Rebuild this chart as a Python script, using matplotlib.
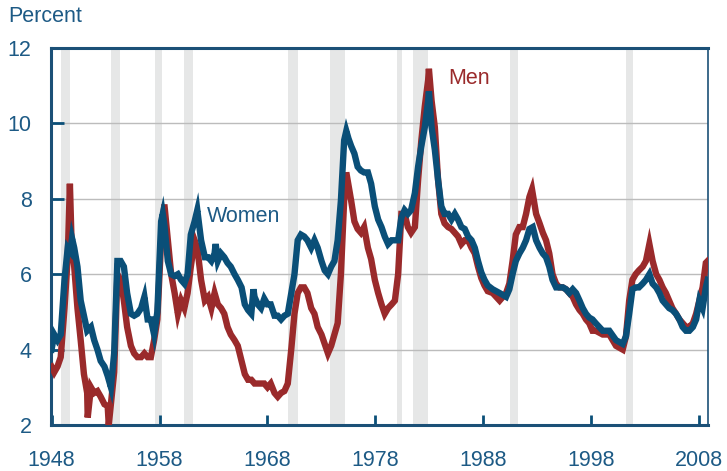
import matplotlib.pyplot as plt

# unemployment rate
men_years = [1948.0, 1948.25, 1948.55, 1948.85, 1949.2, 1949.5, 1949.7, 1949.85, 1950.1, 1950.4,
             1950.7, 1951.0, 1951.3, 1951.35, 1951.65, 1951.95, 1952.25, 1952.55, 1952.9, 1953.2,
             1953.3, 1953.5, 1953.8, 1954.1, 1954.4, 1954.7, 1955.0, 1955.35, 1955.65, 1955.95,
             1956.3, 1956.6, 1956.9, 1957.2, 1957.5, 1957.8, 1958.15, 1958.45, 1958.77, 1959.08,
             1959.4, 1959.7, 1960.0, 1960.3, 1960.6, 1960.9, 1961.25, 1961.5, 1961.85, 1962.2,
             1962.5, 1962.8, 1963.1, 1963.4, 1963.7, 1964.0, 1964.3, 1964.6, 1964.95, 1965.25,
             1965.6, 1965.9, 1966.2, 1966.5, 1966.8, 1967.1, 1967.4, 1967.7, 1968.0, 1968.3,
             1968.65, 1968.95, 1969.26, 1969.57, 1969.88, 1970.2, 1970.5, 1970.8, 1971.1, 1971.4,
             1971.7, 1972.05, 1972.35, 1972.65, 1973.0, 1973.3, 1973.6, 1973.9, 1974.2, 1974.5,
             1974.8, 1975.1, 1975.3, 1975.75, 1976.05, 1976.35, 1976.65, 1976.95, 1977.3, 1977.6,
             1977.94, 1978.25, 1978.56, 1978.86, 1979.17, 1979.5, 1979.8, 1980.1, 1980.4, 1980.7,
             1981.0, 1981.3, 1981.65, 1981.95, 1982.25, 1982.57, 1982.88, 1982.95, 1983.2, 1983.5,
             1983.8, 1984.1, 1984.4, 1984.73, 1985.04, 1985.35, 1985.65, 1985.96, 1986.27, 1986.58,
             1986.9, 1987.2, 1987.5, 1987.8, 1988.1, 1988.4, 1988.86, 1989.5, 1990.1, 1990.4,
             1990.7, 1991.0, 1991.33, 1991.64, 1991.95, 1992.26, 1992.5, 1992.88, 1993.2, 1993.5,
             1993.8, 1994.1, 1994.4, 1994.73, 1995.04, 1995.35, 1995.65, 1995.96, 1996.27, 1996.58,
             1996.9, 1997.2, 1997.5, 1997.8, 1998.1, 1998.4, 1999.05, 1999.66, 2000.28, 2000.9,
             2001.2, 2001.5, 2001.8, 2002.1, 2002.4, 2002.75, 2003.05, 2003.37, 2003.67, 2004.0,
             2004.3, 2004.6, 2004.9, 2005.2, 2005.5, 2005.84, 2006.15, 2006.45, 2006.76, 2007.07,
             2007.4, 2007.7, 2008.0, 2008.3, 2008.6, 2008.77]
men = [3.55, 3.4, 3.55, 3.8, 5.1, 6.45, 8.4, 6.9, 6.2, 5.1,
       4.25, 3.35, 2.85, 2.2, 3.0, 2.85, 2.9, 2.75, 2.55, 2.5,
       2.0, 2.55, 3.4, 6.0, 5.85, 5.3, 4.6, 4.1, 3.9, 3.8,
       3.8, 3.9, 3.8, 3.8, 4.25, 4.8, 6.9, 7.85, 6.9, 6.0,
       5.5, 4.95, 5.3, 5.1, 5.5, 6.2, 6.9, 6.7, 5.85, 5.3,
       5.4, 5.1, 5.5, 5.2, 5.1, 4.95, 4.6, 4.4, 4.25, 4.1,
       3.7, 3.35, 3.2, 3.2, 3.1, 3.1, 3.1, 3.1, 3.0, 3.1,
       2.85, 2.75, 2.85, 2.9, 3.1, 4.0, 4.95, 5.5, 5.65, 5.65,
       5.5, 5.1, 4.95, 4.6, 4.4, 4.15, 3.9, 4.1, 4.4, 4.7,
       6.0, 7.95, 8.7, 7.95, 7.4, 7.2, 7.1, 7.25, 6.7, 6.4,
       5.85, 5.5, 5.2, 4.95, 5.1, 5.2, 5.3, 6.0, 7.6, 7.6,
       7.25, 7.1, 7.25, 8.5, 9.55, 10.45, 11.15, 11.45, 10.6, 9.9,
       8.5, 7.6, 7.35, 7.25, 7.2, 7.1, 7.0, 6.8, 6.9, 6.9,
       6.7, 6.55, 6.2, 5.9, 5.7, 5.55, 5.5, 5.3, 5.5, 5.75,
       6.35, 7.05, 7.25, 7.25, 7.6, 8.05, 8.25, 7.6, 7.35, 7.1,
       6.9, 6.55, 6.0, 5.75, 5.65, 5.65, 5.6, 5.5, 5.4, 5.2,
       5.05, 4.95, 4.8, 4.7, 4.5, 4.5, 4.4, 4.4, 4.1, 4.0,
       4.35, 5.3, 5.85, 6.0, 6.1, 6.2, 6.35, 6.8, 6.35, 6.0,
       5.85, 5.65, 5.5, 5.3, 5.1, 4.95, 4.8, 4.7, 4.6, 4.6,
       4.7, 4.95, 5.3, 5.65, 6.3, 6.35]

women_years = [1948.0, 1948.25, 1948.55, 1948.85, 1949.2, 1949.5, 1949.75, 1949.9, 1950.1, 1950.4,
               1950.7, 1951.0, 1951.3, 1951.65, 1951.95, 1952.25, 1952.55, 1952.9, 1953.2, 1953.5,
               1953.8, 1954.1, 1954.4, 1954.7, 1955.0, 1955.35, 1955.65, 1955.95, 1956.3, 1956.6,
               1956.9, 1957.2, 1957.5, 1957.8, 1958.15, 1958.3, 1958.47, 1958.77, 1959.08, 1959.4,
               1959.7, 1960.0, 1960.3, 1960.6, 1960.9, 1961.25, 1961.5, 1961.85, 1962.2, 1962.5,
               1962.8, 1963.1, 1963.2, 1963.4, 1963.7, 1964.0, 1964.3, 1964.6, 1964.95, 1965.25,
               1965.6, 1965.9, 1966.2, 1966.5, 1966.7, 1966.8, 1967.1, 1967.4, 1967.7, 1968.0,
               1968.3, 1968.65, 1968.95, 1969.26, 1969.57, 1969.88, 1970.2, 1970.5, 1970.8, 1971.1,
               1971.4, 1971.7, 1972.05, 1972.35, 1972.65, 1973.0, 1973.3, 1973.6, 1973.9, 1974.2,
               1974.5, 1974.8, 1975.1, 1975.3, 1975.5, 1975.75, 1976.05, 1976.35, 1976.65, 1976.95,
               1977.3, 1977.6, 1977.94, 1978.25, 1978.56, 1978.86, 1979.17, 1979.5, 1979.8, 1980.1,
               1980.4, 1980.7, 1981.0, 1981.3, 1981.65, 1981.95, 1982.25, 1982.57, 1982.88, 1982.95,
               1983.2, 1983.5, 1983.8, 1984.1, 1984.4, 1984.73, 1985.04, 1985.35, 1985.65, 1985.96,
               1986.27, 1986.58, 1986.9, 1987.2, 1987.5, 1987.8, 1988.1, 1988.4, 1988.86, 1989.5,
               1990.1, 1990.4, 1990.7, 1991.0, 1991.33, 1991.64, 1991.95, 1992.26, 1992.57, 1992.88,
               1993.2, 1993.5, 1993.8, 1994.1, 1994.4, 1994.73, 1995.04, 1995.35, 1995.65, 1995.96,
               1996.27, 1996.58, 1996.9, 1997.2, 1997.5, 1997.8, 1998.1, 1998.4, 1999.05, 1999.66,
               2000.28, 2000.9, 2001.2, 2001.5, 2001.8, 2002.1, 2002.4, 2002.75, 2003.05, 2003.37,
               2003.67, 2004.0, 2004.3, 2004.6, 2004.9, 2005.2, 2005.5, 2005.84, 2006.15, 2006.45,
               2006.76, 2007.07, 2007.4, 2007.7, 2008.0, 2008.3, 2008.6, 2008.77]
women = [4.0, 4.4, 4.25, 4.4, 5.85, 6.7, 6.6, 6.95, 6.7, 6.2,
         5.3, 4.9, 4.5, 4.6, 4.25, 4.0, 3.7, 3.55, 3.3, 3.0,
         3.9, 6.35, 6.35, 6.2, 5.5, 4.95, 4.9, 4.95, 5.1, 5.4,
         4.8, 4.8, 4.4, 5.0, 7.4, 7.6, 7.25, 6.35, 6.0, 5.95,
         6.0, 5.85, 5.75, 6.0, 7.05, 7.4, 7.7, 6.9, 6.45, 6.45,
         6.35, 6.55, 6.8, 6.35, 6.55, 6.45, 6.3, 6.2, 6.0, 5.85,
         5.65, 5.2, 5.05, 4.95, 5.6, 5.4, 5.2, 5.1, 5.35, 5.2,
         5.2, 4.9, 4.9, 4.8, 4.9, 4.95, 5.5, 6.0, 6.9, 7.05,
         7.0, 6.9, 6.7, 6.9, 6.7, 6.35, 6.1, 6.0, 6.2, 6.35,
         6.9, 7.95, 9.55, 9.8, 9.6, 9.4, 9.2, 8.85, 8.75, 8.7,
         8.7, 8.4, 7.8, 7.45, 7.25, 7.0, 6.8, 6.9, 6.9, 6.9,
         7.5, 7.7, 7.6, 7.7, 8.15, 8.85, 9.4, 9.9, 10.6, 10.85,
         9.9, 9.3, 8.5, 7.8, 7.6, 7.6, 7.45, 7.6, 7.45, 7.25,
         7.2, 7.0, 6.9, 6.7, 6.35, 6.05, 5.85, 5.7, 5.6, 5.5,
         5.4, 5.6, 6.0, 6.35, 6.55, 6.7, 6.9, 7.2, 7.25, 6.9,
         6.7, 6.55, 6.45, 6.2, 5.85, 5.65, 5.65, 5.65, 5.6, 5.5,
         5.6, 5.5, 5.3, 5.1, 4.95, 4.85, 4.8, 4.7, 4.5, 4.5,
         4.25, 4.15, 4.35, 4.95, 5.6, 5.65, 5.65, 5.75, 5.85, 6.0,
         5.75, 5.65, 5.5, 5.3, 5.2, 5.1, 5.05, 4.95, 4.8, 4.6,
         4.5, 4.5, 4.6, 4.8, 5.3, 5.1, 5.65, 5.85]

# NBER recessions (start, end)
recessions = [(1948.83, 1949.75), (1953.5, 1954.33), (1957.58, 1958.25), (1960.25, 1961.08),
              (1969.92, 1970.83), (1973.83, 1975.17), (1980.0, 1980.5), (1981.5, 1982.83),
              (1990.5, 1991.17), (2001.17, 2001.83)]

year_ticks = [1948, 1958, 1968, 1978, 1988, 1998, 2008]
pct_ticks = [2, 4, 6, 8, 10, 12]

blue = '#0a4f78'
red = '#9a2a2b'
txt = '#1d5a85'

plt.rcParams['font.family'] = ['Liberation Sans', 'DejaVu Sans']

fig = plt.figure(figsize=(7.27, 4.71), dpi=100)
ax = fig.add_axes([51 / 727, 46 / 471, 657 / 727, 377 / 471])

for a, b in recessions:
    ax.axvspan(a, b, color='#e6e7e7', lw=0, zorder=0)
for v in pct_ticks[1:-1]:
    ax.axhline(v, color='#bcbcbc', lw=1, zorder=1)

ax.plot(men_years, men, color=red, lw=4.6, solid_joinstyle='miter', zorder=3)
ax.plot(women_years, women, color=blue, lw=4.6, solid_joinstyle='miter', zorder=4)

ax.text(1984.7, 11.2, 'Men', color=red, fontsize=15.5, va='center', ha='left')
ax.text(1962.35, 7.52, 'Women', color=txt, fontsize=15.5, va='center', ha='left')
fig.text(8 / 727, 1 - 17 / 471, 'Percent', color=txt, fontsize=15.5, va='center', ha='left')

ax.set_xlim(1947.95, 2008.8)
ax.set_ylim(2, 12)
ax.set_xticks(year_ticks)
ax.set_yticks(pct_ticks)
ax.tick_params(axis='both', direction='in', colors=blue, labelcolor=txt, labelsize=15.5, width=2)
ax.tick_params(axis='x', length=7, pad=18)
ax.tick_params(axis='y', length=9, pad=14)

for side in ['left', 'bottom', 'top']:
    ax.spines[side].set_color('#1b5077')
    ax.spines[side].set_linewidth(2.2)
ax.spines['right'].set_color('#1b5077')
ax.spines['right'].set_linewidth(1.2)

plt.savefig('out.png', dpi=100)
